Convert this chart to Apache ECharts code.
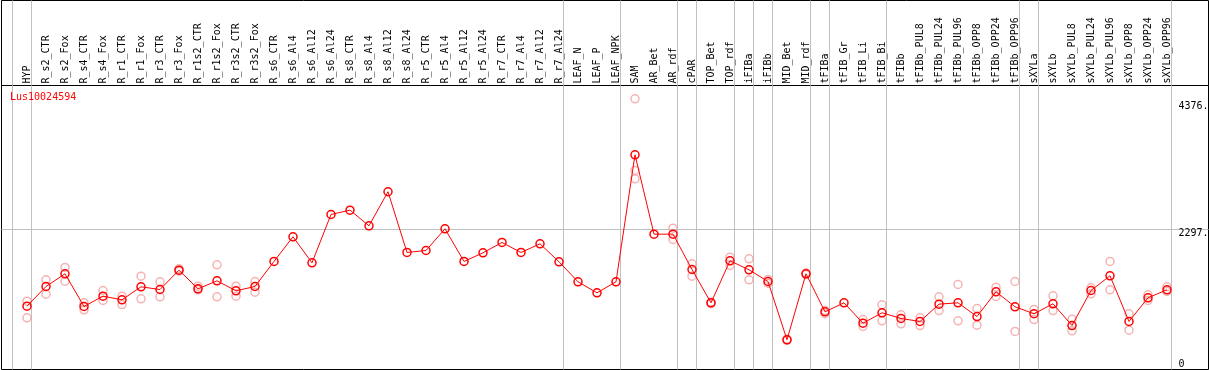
<!DOCTYPE html>
<html>
<head>
<meta charset="utf-8">
<script src="https://cdn.jsdelivr.net/npm/echarts@6/dist/echarts.min.js"></script>
<style>
  html, body { margin: 0; padding: 0; background: #fff; }
  #chart { width: 1209px; height: 370px; }
</style>
</head>
<body>
<div id="chart"></div>
<script>
const categories = [
  "HYP", "R_s2_CTR", "R_s2_Fox", "R_s4_CTR", "R_s4_Fox", "R_r1_CTR", "R_r1_Fox", "R_r3_CTR", "R_r3_Fox",
  "R_r1s2_CTR", "R_r1s2_Fox", "R_r3s2_CTR", "R_r3s2_Fox", "R_s6_CTR", "R_s6_Al4", "R_s6_Al12", "R_s6_Al24",
  "R_s8_CTR", "R_s8_Al4", "R_s8_Al12", "R_s8_Al24", "R_r5_CTR", "R_r5_Al4", "R_r5_Al12", "R_r5_Al24",
  "R_r7_CTR", "R_r7_Al4", "R_r7_Al12", "R_r7_Al24", "LEAF_N", "LEAF_P", "LEAF_NPK", "SAM", "AR_Bet", "AR_rdf",
  "cPAR", "TOP_Bet", "TOP_rdf", "iFIBa", "iFIBb", "MID_Bet", "MID_rdf", "tFIBa", "tFIB_Gr", "tFIB_Li", "tFIB_Bi",
  "tFIBb", "tFIBb_PUL8", "tFIBb_PUL24", "tFIBb_PUL96", "tFIBb_OPP8", "tFIBb_OPP24", "tFIBb_OPP96",
  "sXYLa", "sXYLb", "sXYLb_PUL8", "sXYLb_PUL24", "sXYLb_PUL96", "sXYLb_OPP8", "sXYLb_OPP24", "sXYLb_OPP96"
];

// mean expression per sample
const means = [
  1034, 1355, 1563, 1029, 1197, 1138, 1350, 1306, 1622, 1317, 1448, 1285, 1355,
  1764, 2167, 1742, 2531, 2602, 2346, 2902, 1911, 1943, 2297, 1764, 1905, 2074, 1911, 2052, 1759,
  1432, 1252, 1432, 3506, 2210, 2210, 1633, 1089, 1775, 1628, 1437, 485, 1563,
  942, 1089, 756, 926, 833, 784, 1067, 1089, 865, 1269, 1024,
  910, 1073, 718, 1290, 1530, 784, 1171, 1301
];

// replicates (null = none shown)
const repHigh = [
  1115, 1465, 1666, 1089, 1290, 1197, 1524, 1432, 1644, 1361, 1709, 1361, 1437,
  null, null, null, null, null, null, null, null, null, null, null, null, null, null, null, null,
  null, null, null, 4420, null, 2307, 1726, 1100, 1834, 1808, 1470, 495, 1575,
  963, null, 816, 1056, 893, 844, 1187, 1388, 996, 1344, 1437,
  980, 1203, 821, 1334, 1764, 910, 1220, 1350
];
const repLow = [
  844, 1230, 1442, 975, 1127, 1061, 1154, 1187, 1605, 1301, 1187, 1197, 1263,
  null, null, null, null, null, null, null, null, null, null, null, null, null, null, null, null,
  null, null, null, 3114, null, 2123, 1524, 1075, 1698, 1465, 1409, 478, 1550,
  910, null, 702, 795, 746, 718, 963, 795, 724, 1192, 621,
  816, 963, 632, 1236, 1301, 642, 1127, 1274
];
const repThird = [[32, 3250]];

// last sample index of each group; a separator follows it
const groupEnds = [-1, 0, 28, 31, 34, 35, 37, 38, 39, 41, 42, 45, 52, 53, 60];

const yLabelValues = [2297, 4376];
const yGridValues = [2297];
const yZeroLabel = [0];
const seriesName = "Lus10024594";

const font = "DejaVu Sans Mono";
const xMin = -1.342;
const xMax = 62.184;
const yMax = 4637;
const separators = groupEnds.map((i) => i + 0.2);

function points(values) {
  return values.map((v, i) => (v === null ? null : [i, v])).filter((p) => p !== null);
}

const gray = "#c0c0c0";
const separatorLines = {
  silent: true,
  symbol: "none",
  label: { show: false },
  lineStyle: { color: gray, width: 1, type: "solid" },
  emphasis: { disabled: true },
  data: separators.map((v) => ({ xAxis: v })),
};
const hiddenX = (gridIndex) => ({
  gridIndex,
  type: "value",
  min: xMin,
  max: xMax,
  axisLine: { show: false },
  axisLabel: { show: false },
  axisTick: { show: false },
  splitLine: { show: false },
});
const yLabel = {
  inside: true,
  align: "left",
  margin: 30,
  color: "#000",
  fontFamily: font,
  fontSize: 10,
  formatter: (v) => (v === 0 ? "0" : `${v}.`),
};

const chart = echarts.init(document.getElementById("chart"), null, { renderer: "canvas" });

chart.setOption({
  animation: false,
  title: {
    text: seriesName,
    left: 10,
    top: 92,
    padding: 0,
    textStyle: { color: "#ff0000", fontFamily: font, fontSize: 10, fontWeight: "normal" },
  },
  grid: [
    { left: 1.5, right: 0.5, top: 85.5, bottom: 0.5, show: true, borderColor: "#000", borderWidth: 1, outerBoundsMode: "none" },
    { left: 17.5, width: 1159, top: 85.5, bottom: 0.5, show: false, outerBoundsMode: "none" },
    { left: 1.5, right: 0.5, top: 0.5, height: 85, show: true, borderColor: "#000", borderWidth: 1, outerBoundsMode: "none" },
  ],
  xAxis: [
    hiddenX(0),
    {
      gridIndex: 1,
      type: "category",
      data: categories,
      position: "top",
      boundaryGap: true,
      axisLine: { show: false },
      axisTick: { show: false },
      splitLine: { show: false },
      axisLabel: { interval: 0, rotate: 90, margin: 2, color: "#000", fontFamily: font, fontSize: 10 },
    },
    hiddenX(2),
  ],
  yAxis: [
    {
      gridIndex: 0,
      type: "value",
      min: 0,
      max: yMax,
      position: "right",
      axisLine: { show: false },
      axisTick: { show: false, customValues: yGridValues },
      splitLine: { show: true, lineStyle: { color: gray, width: 1 } },
      axisLabel: { ...yLabel, customValues: yLabelValues, verticalAlign: "top" },
    },
    {
      gridIndex: 0,
      type: "value",
      min: 0,
      max: yMax,
      position: "right",
      axisLine: { show: false },
      axisTick: { show: false },
      splitLine: { show: false },
      axisLabel: { ...yLabel, customValues: yZeroLabel, verticalAlign: "bottom" },
    },
    { gridIndex: 1, type: "value", show: false },
    { gridIndex: 2, type: "value", min: 0, max: 1, show: false },
  ],
  series: [
    // separators running through the header band
    {
      type: "scatter",
      xAxisIndex: 2,
      yAxisIndex: 3,
      data: [],
      z: 0,
      markLine: separatorLines,
    },
    ...[points(repHigh), points(repLow), repThird].map((data) => ({
      type: "scatter",
      xAxisIndex: 0,
      yAxisIndex: 0,
      data,
      symbol: "circle",
      symbolSize: 8,
      z: 1,
      itemStyle: { color: "rgba(0,0,0,0)", borderColor: "#f2a0a0", borderWidth: 1.5 },
      emphasis: { disabled: true },
    })),
    {
      name: seriesName,
      type: "line",
      xAxisIndex: 0,
      yAxisIndex: 0,
      data: points(means),
      symbol: "circle",
      symbolSize: 8,
      z: 3,
      lineStyle: { color: "#ff0000", width: 1 },
      itemStyle: { color: "rgba(0,0,0,0)", borderColor: "#ff0000", borderWidth: 1.5 },
      emphasis: { disabled: true },
      markLine: { ...separatorLines, z: 0 },
    },
  ],
});
</script>
</body>
</html>
